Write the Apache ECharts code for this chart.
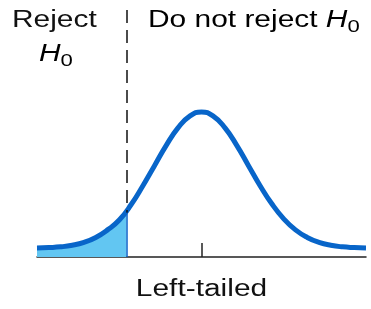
<!DOCTYPE html>
<html lang="en">
<head>
    <meta charset="UTF-8">
    <title>Left-tailed</title>
    <script src="https://cdn.jsdelivr.net/npm/echarts@6.0.0/dist/echarts.min.js"></script>
    <style>
        body { margin: 0; background: #fff; }
        #main { width: 371px; height: 309px; }
    </style>
</head>
<body>
    <div id="main"></div>
    <script type="text/javascript">
        // curve (peak = 1, axis = 0)
        let curveX = [-3.5, -3.25, -3, -2.75, -2.5, -2.25, -2, -1.75, -1.5, -1.25, -1, -0.75, -0.5, -0.25, 0,
            0.25, 0.5, 0.75, 1, 1.25, 1.5, 1.75, 2, 2.25, 2.5, 2.75, 3, 3.25, 3.5];
        let curveY = [0.062, 0.065, 0.070, 0.081, 0.101, 0.135, 0.187, 0.255, 0.36, 0.490, 0.630, 0.770, 0.890, 0.971, 1.0,
            0.971, 0.890, 0.770, 0.630, 0.490, 0.365, 0.263, 0.187, 0.135, 0.101, 0.081, 0.070, 0.065, 0.062];
        // shaded rejection tail
        let tailX = [-3.5, -3.25, -3, -2.75, -2.5, -2.25, -2, -1.75, -1.6];
        let tailY = [0.062, 0.065, 0.070, 0.081, 0.101, 0.135, 0.187, 0.255, 0.305];
        let cutX = -1.6;
        let cutY = 0.305;
        let dashTop = 1.703;
        let tickValues = [0];

        let font = '"Liberation Sans", Arial, Helvetica, sans-serif';

        let myChart = echarts.init(document.getElementById('main'));

        let options = {
            animation: false,
            grid: { left: 37, right: 5, top: 0, bottom: 52 },
            xAxis: {
                type: 'value',
                min: -3.5,
                max: 3.5,
                axisLine: { show: true, lineStyle: { color: '#222', width: 1.5 } },
                axisTick: {
                    show: true,
                    inside: true,
                    length: 14,
                    customValues: tickValues,
                    lineStyle: { color: '#222', width: 1.5 }
                },
                axisLabel: { show: false },
                splitLine: { show: false }
            },
            yAxis: {
                type: 'value',
                min: 0,
                max: 1.772,
                show: false
            },
            series: [
                {
                    type: 'line',
                    data: tailX.map((x, i) => [x, tailY[i]]),
                    smooth: true,
                    symbol: 'none',
                    lineStyle: { width: 0 },
                    areaStyle: { color: '#62c6f2', opacity: 1 },
                    z: 1,
                    markLine: {
                        silent: true,
                        symbol: 'none',
                        label: { show: false },
                        data: [
                            [
                                { coord: [cutX, dashTop], lineStyle: { color: '#111', width: 1.5, type: [13, 7] } },
                                { coord: [cutX, cutY] }
                            ],
                            [
                                { coord: [cutX, 0], lineStyle: { color: '#0a62c8', width: 1.5, type: 'solid' } },
                                { coord: [cutX, cutY] }
                            ]
                        ]
                    }
                },
                {
                    type: 'line',
                    data: curveX.map((x, i) => [x, curveY[i]]),
                    smooth: true,
                    symbol: 'none',
                    lineStyle: { color: '#0865c9', width: 5 },
                    z: 3
                }
            ],
            graphic: [
                {
                    type: 'text', x: 12, y: 20.5, scaleX: 1.3,
                    style: { text: 'Reject', font: '23px ' + font, fill: '#111', align: 'left', verticalAlign: 'middle' }
                },
                {
                    type: 'text', x: 39, y: 55, scaleX: 1.3,
                    style: {
                        text: '{i|H}{s|0}', align: 'left', verticalAlign: 'middle',
                        rich: {
                            i: { fontSize: 23, fontStyle: 'italic', fontFamily: font, color: '#111', lineHeight: 30, verticalAlign: 'middle' },
                            s: { fontSize: 17, fontFamily: font, color: '#111', lineHeight: 30, verticalAlign: 'bottom' }
                        }
                    }
                },
                {
                    type: 'text', x: 148, y: 20.5, scaleX: 1.3,
                    style: {
                        text: '{n|Do not reject }{i|H}{s|0}', align: 'left', verticalAlign: 'middle',
                        rich: {
                            n: { fontSize: 23, fontFamily: font, color: '#111', lineHeight: 30, verticalAlign: 'middle' },
                            i: { fontSize: 23, fontStyle: 'italic', fontFamily: font, color: '#111', lineHeight: 30, verticalAlign: 'middle' },
                            s: { fontSize: 17, fontFamily: font, color: '#111', lineHeight: 30, verticalAlign: 'bottom' }
                        }
                    }
                },
                {
                    type: 'text', x: 201.5, y: 290, scaleX: 1.3,
                    style: { text: 'Left-tailed', font: '23px ' + font, fill: '#111', align: 'center', verticalAlign: 'middle' }
                }
            ]
        };

        myChart.setOption(options);
    </script>
</body>
</html>
